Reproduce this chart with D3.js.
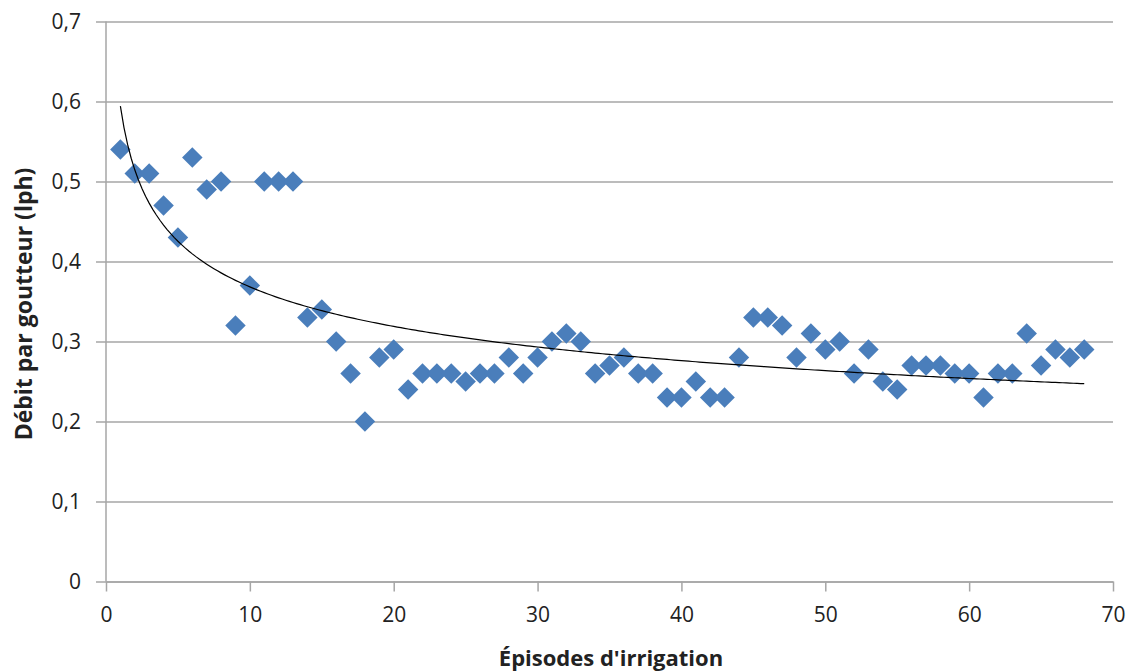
<!DOCTYPE html>
<html>
<head>
<meta charset="utf-8">
<script src="https://cdn.jsdelivr.net/npm/d3@7"></script>
<style>
  body { margin: 0; background: #fff; }
  text { font-family: "Open Sans", "Liberation Sans", sans-serif; fill: #222; }
</style>
</head>
<body>
<div id="chart_container"></div>
<script>
// episodes d'irrigation (x) and debit par goutteur in lph (y)
var episodes = d3.range(1, 69);
var debit = [
  0.54, 0.51, 0.51, 0.47, 0.43, 0.53, 0.49, 0.50, 0.32, 0.37,
  0.50, 0.50, 0.50, 0.33, 0.34, 0.30, 0.26, 0.20, 0.28, 0.29,
  0.24, 0.26, 0.26, 0.26, 0.25, 0.26, 0.26, 0.28, 0.26, 0.28,
  0.30, 0.31, 0.30, 0.26, 0.27, 0.28, 0.26, 0.26, 0.23, 0.23,
  0.25, 0.23, 0.23, 0.28, 0.33, 0.33, 0.32, 0.28, 0.31, 0.29,
  0.30, 0.26, 0.29, 0.25, 0.24, 0.27, 0.27, 0.27, 0.26, 0.26,
  0.23, 0.26, 0.26, 0.31, 0.27, 0.29, 0.28, 0.29
];
var xTicks = [0, 10, 20, 30, 40, 50, 60, 70];
var yTicks = [0, 0.1, 0.2, 0.3, 0.4, 0.5, 0.6, 0.7];

var width = 1133, height = 672;
var margin = {left: 106, right: 20, top: 21.5, bottom: 90.5};

var svg = d3.select("#chart_container").append("svg")
  .attr("width", width)
  .attr("height", height);

var x = d3.scaleLinear().domain([0, 70]).range([margin.left, 1113]);
var y = d3.scaleLinear().domain([0, 0.7]).range([height - margin.bottom, margin.top]);

var fmt = function(d) { return d3.format(".1f")(d).replace(".", ","); };

// horizontal gridlines + y axis
var yAxis = svg.append("g")
  .attr("transform", "translate(" + margin.left + ",0)")
  .call(d3.axisLeft(y).tickValues(yTicks).tickSize(-(1113 - margin.left)).tickPadding(25)
    .tickFormat(function(d) { return d === 0 ? "0" : fmt(d); }));
yAxis.select(".domain").remove();
yAxis.selectAll("line").attr("stroke", "#a6a6a6").attr("stroke-width", 1.5).attr("x1", -10);
yAxis.selectAll("text").style("font-size", "21px").attr("fill", "#222");

// x axis
var xAxis = svg.append("g")
  .attr("transform", "translate(0," + y(0) + ")")
  .call(d3.axisBottom(x).tickValues(xTicks).tickSize(10).tickPadding(16).tickSizeOuter(0));
xAxis.select(".domain").attr("stroke", "#a6a6a6").attr("stroke-width", 1.5);
xAxis.selectAll("line").attr("stroke", "#a6a6a6").attr("stroke-width", 1.5);
xAxis.selectAll("text").style("font-size", "21px").attr("fill", "#222");

// vertical y axis line
svg.append("line")
  .attr("x1", x(0)).attr("x2", x(0))
  .attr("y1", y(0.7)).attr("y2", y(0))
  .attr("stroke", "#a6a6a6").attr("stroke-width", 1.5);

// points
var diamond = d3.symbol().type(d3.symbolSquare).size(210);
svg.append("g").selectAll("path")
  .data(episodes)
  .enter().append("path")
   .attr("d", diamond)
   .attr("transform", function(d, i) {
     return "translate(" + x(d) + "," + y(debit[i]) + ") rotate(45)";
   })
   .attr("fill", "#4a7ebb");

// power trendline (least squares on ln x, ln y)
var lx = episodes.map(function(d) { return Math.log(d); });
var ly = debit.map(function(d) { return Math.log(d); });
var mx = d3.mean(lx), my = d3.mean(ly);
var num = d3.sum(lx, function(d, i) { return (d - mx) * (ly[i] - my); });
var den = d3.sum(lx, function(d) { return (d - mx) * (d - mx); });
var b = num / den;
var a = Math.exp(my - b * mx);

var trendX = d3.range(1, 68.01, 0.25);
var line = d3.line()
  .x(function(d) { return x(d); })
  .y(function(d) { return y(a * Math.pow(d, b)); });
svg.append("path")
  .datum(trendX)
  .attr("d", line)
  .attr("fill", "none")
  .attr("stroke", "#000")
  .attr("stroke-width", 1.2);

// axis titles
svg.append("text")
  .attr("x", 611).attr("y", 666)
  .attr("text-anchor", "middle")
  .style("font-size", "22px").style("font-weight", "bold")
  .text("Épisodes d'irrigation");

svg.append("text")
  .attr("transform", "translate(32,304) rotate(-90)")
  .attr("text-anchor", "middle")
  .style("font-size", "23px").style("font-weight", "bold")
  .text("Débit par goutteur (lph)");
</script>
</body>
</html>
